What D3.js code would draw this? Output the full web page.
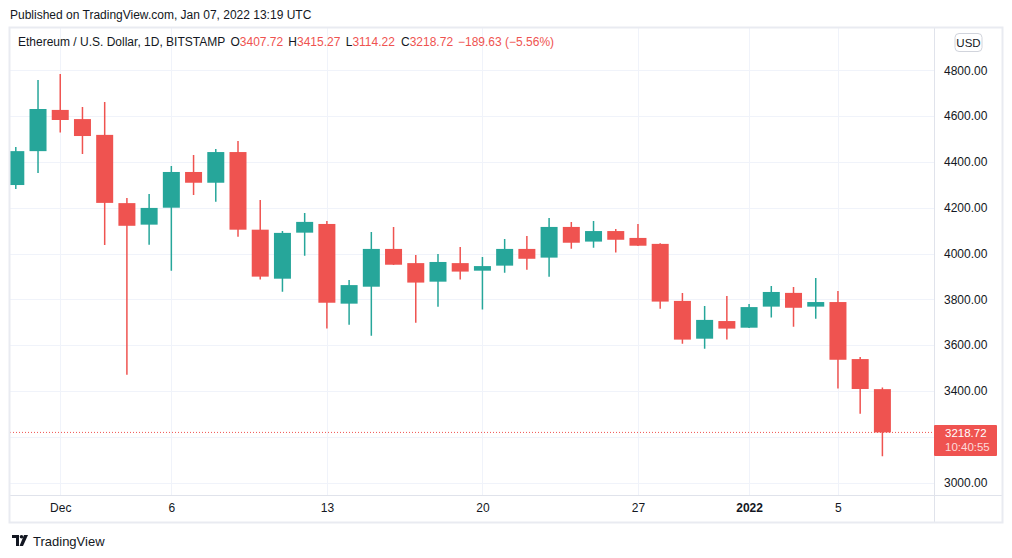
<!DOCTYPE html>
<html>
<head>
<meta charset="utf-8">
<script src="https://cdn.jsdelivr.net/npm/d3@7"></script>
<style>
  body { margin: 0; background: #fff; overflow: hidden; }
  text { font-family: "Liberation Sans", "Noto Sans", sans-serif; }
</style>
</head>
<body>
<script>
// ETH/USD daily candles, Bitstamp, Nov 29 2021 – Jan 7 2022
const dates = [
  '2021-11-29', '2021-11-30', '2021-12-01', '2021-12-02', '2021-12-03', '2021-12-04', '2021-12-05',
  '2021-12-06', '2021-12-07', '2021-12-08', '2021-12-09', '2021-12-10', '2021-12-11', '2021-12-12',
  '2021-12-13', '2021-12-14', '2021-12-15', '2021-12-16', '2021-12-17', '2021-12-18', '2021-12-19',
  '2021-12-20', '2021-12-21', '2021-12-22', '2021-12-23', '2021-12-24', '2021-12-25', '2021-12-26',
  '2021-12-27', '2021-12-28', '2021-12-29', '2021-12-30', '2021-12-31', '2022-01-01', '2022-01-02',
  '2022-01-03', '2022-01-04', '2022-01-05', '2022-01-06', '2022-01-07'
];
const opens = [
  4299, 4447, 4627, 4587, 4518, 4220, 4126, 4200, 4356, 4309, 4443, 4104, 3890, 4091,
  4129, 3781, 3855, 4020, 3958, 3877, 3958, 3925, 3947, 4020, 3982, 4116, 4052, 4098,
  4068, 4042, 3793, 3628, 3705, 3676, 3768, 3828, 3768, 3788, 3539, 3407.72
];
const highs = [
  4465, 4758, 4784, 4640, 4662, 4242, 4260, 4382, 4430, 4456, 4491, 4234, 4098, 4177,
  4142, 3884, 4094, 4116, 3993, 3998, 4028, 3985, 4063, 4076, 4155, 4138, 4142, 4107,
  4129, 4045, 3828, 3771, 3814, 3779, 3858, 3854, 3893, 3836, 3548, 3415.27
];
const lows = [
  4282, 4352, 4528, 4435, 4037, 3471, 4038, 3925, 4255, 4226, 4073, 3886, 3833, 3990,
  3672, 3689, 3641, 3950, 3698, 3768, 3886, 3755, 3916, 3929, 3899, 4021, 4025, 4004,
  4033, 3759, 3606, 3584, 3624, 3675, 3720, 3680, 3715, 3410, 3300, 3114.22
];
const closes = [
  4447, 4631, 4583, 4513, 4221, 4121, 4199, 4356, 4309, 4443, 4104, 3899, 4090, 4138,
  3785, 3862, 4020, 3951, 3873, 3963, 3921, 3945, 4020, 3977, 4116, 4047, 4098, 4060,
  4034, 3790, 3624, 3710, 3672, 3766, 3832, 3763, 3788, 3536, 3408.35, 3218.72
];
const priceTicks = [3000, 3200, 3400, 3600, 3800, 4000, 4200, 4400, 4600, 4800];
const timeTicks = ['2021-12-01', '2021-12-06', '2021-12-13', '2021-12-20', '2021-12-27', '2022-01-01', '2022-01-05'];
const timeLabels = ['Dec', '6', '13', '20', '27', '2022', '5'];

const width = 1012, height = 558;
const up = '#26a69a', down = '#ef5350';
const grid = '#f0f3fa', border = '#e0e3eb', ink = '#131722';

// pane geometry
const paneL = 10, paneR = 934, paneT = 28, paneB = 495.5, frameR = 1002, frameB = 522;

const parse = d3.utcParse('%Y-%m-%d');
const candles = dates.map((d, i) => ({
  date: parse(d), o: opens[i], h: highs[i], l: lows[i], c: closes[i]
}));

const x = d3.scaleUtc()
  .domain([parse('2021-11-29'), parse('2022-01-07')])
  .range([15.8, 882.4]);
const y = d3.scaleLinear()
  .domain([3000, 4800])
  .range([482.5, 70.3]);

const svg = d3.select('body').append('svg')
  .attr('width', width)
  .attr('height', height);

svg.append('defs').append('clipPath').attr('id', 'pane')
  .append('rect')
  .attr('x', paneL).attr('y', paneT)
  .attr('width', paneR - paneL).attr('height', paneB - paneT);

// header
svg.append('text')
  .attr('x', 10).attr('y', 19)
  .attr('font-size', 12).attr('fill', ink)
  .text('Published on TradingView.com, Jan 07, 2022 13:19 UTC');

// grid
const gridG = svg.append('g');
gridG.selectAll('line.h').data(priceTicks).join('line')
  .attr('x1', paneL).attr('x2', paneR)
  .attr('y1', d => Math.round(y(d)) + 0.5).attr('y2', d => Math.round(y(d)) + 0.5)
  .attr('stroke', grid);
gridG.selectAll('line.v').data(timeTicks).join('line')
  .attr('x1', d => Math.round(x(parse(d))) + 0.5).attr('x2', d => Math.round(x(parse(d))) + 0.5)
  .attr('y1', paneT).attr('y2', paneB)
  .attr('stroke', grid);

// candles
const bodyW = 17;
const cg = svg.append('g').attr('clip-path', 'url(#pane)');
const cand = cg.selectAll('g').data(candles).join('g');
cand.append('line')
  .attr('x1', d => x(d.date)).attr('x2', d => x(d.date))
  .attr('y1', d => y(d.h)).attr('y2', d => y(d.l))
  .attr('stroke', d => d.c >= d.o ? up : down)
  .attr('stroke-width', 1.5);
cand.append('rect')
  .attr('x', d => x(d.date) - bodyW / 2)
  .attr('width', bodyW)
  .attr('y', d => y(Math.max(d.o, d.c)))
  .attr('height', d => Math.max(1, Math.abs(y(d.o) - y(d.c))))
  .attr('fill', d => d.c >= d.o ? up : down);

// last price line
const last = closes[closes.length - 1];
svg.append('line')
  .attr('x1', paneL).attr('x2', paneR)
  .attr('y1', y(last)).attr('y2', y(last))
  .attr('stroke', down).attr('stroke-width', 1)
  .attr('stroke-dasharray', '1,2');

// legend line
const legend = svg.append('text')
  .attr('x', 18).attr('y', 46)
  .attr('font-size', 12).attr('fill', ink);
legend.append('tspan').text('Ethereum / U.S. Dollar, 1D, BITSTAMP');
const lastC = candles[candles.length - 1];
const prev = closes[closes.length - 2];
const chg = lastC.c - prev;
const ohlcX = [230.5, 288.3, 345.7, 401];
[['O', lastC.o], ['H', lastC.h], ['L', lastC.l], ['C', lastC.c]].forEach(([k, v], i) => {
  legend.append('tspan').attr('x', ohlcX[i]).attr('fill', ink).text(k);
  legend.append('tspan').attr('fill', down).text(d3.format('.2f')(v));
});
legend.append('tspan').attr('x', 458).attr('fill', down)
  .text('\u2212' + d3.format('.2f')(Math.abs(chg)) + ' (\u2212' + d3.format('.2f')(Math.abs(chg / prev * 100)) + '%)');

// price axis: labels hidden where the last-price badge sits
const ly = y(last);
const labelTicks = priceTicks.filter(v => Math.abs(y(v) - ly) > 20);
const yAxis = svg.append('g')
  .attr('transform', `translate(${paneR},0)`)
  .call(d3.axisRight(y).tickValues(labelTicks).tickFormat(d3.format('.2f')).tickSize(0).tickPadding(10));
yAxis.select('.domain').remove();
yAxis.selectAll('text')
  .attr('font-size', 12).attr('fill', ink)
  .attr('font-family', '"Liberation Sans", sans-serif');

// time axis
const xAxis = svg.append('g')
  .attr('transform', `translate(0,${paneB})`)
  .call(d3.axisBottom(x)
    .tickValues(timeTicks.map(parse))
    .tickFormat((d, i) => timeLabels[i])
    .tickSize(0).tickPadding(8));
xAxis.select('.domain').remove();
xAxis.selectAll('text')
  .attr('font-size', 12).attr('fill', ink)
  .attr('font-family', '"Liberation Sans", sans-serif')
  .attr('font-weight', (d, i) => timeLabels[i] === '2022' ? 'bold' : null);

// frame lines
svg.append('line')
  .attr('x1', paneL).attr('x2', frameR).attr('y1', paneB).attr('y2', paneB)
  .attr('stroke', border);
svg.append('line')
  .attr('x1', paneR + 0.5).attr('x2', paneR + 0.5).attr('y1', paneT).attr('y2', frameB)
  .attr('stroke', border);
svg.append('rect')
  .attr('x', paneL - 0.5).attr('y', paneT - 0.5)
  .attr('width', frameR - paneL + 1).attr('height', frameB - paneT + 1)
  .attr('fill', 'none').attr('stroke', '#e9ebf1').attr('stroke-width', 2);

// USD badge
svg.append('rect')
  .attr('x', 955).attr('y', 33.5).attr('width', 27).attr('height', 18).attr('rx', 4)
  .attr('fill', '#fff').attr('stroke', '#d1d4dc');
svg.append('text')
  .attr('x', 968.5).attr('y', 46.5).attr('text-anchor', 'middle')
  .attr('font-size', 11.5).attr('fill', ink).text('USD');

// last price label
svg.append('rect')
  .attr('x', paneR).attr('y', ly - 7.5).attr('width', 63).attr('height', 31).attr('rx', 1)
  .attr('fill', down);
const lbl = svg.append('text')
  .attr('x', 945).attr('y', ly + 4.5)
  .attr('font-size', 11.5).attr('fill', '#fff');
lbl.append('tspan').attr('x', 945).text(d3.format('.2f')(last));
lbl.append('tspan').attr('x', 945).attr('dy', 14.5).attr('fill-opacity', 0.8).text('10:40:55');

// footer logo
const logo = svg.append('g').attr('transform', 'translate(12,535)');
logo.append('path').attr('d', 'M0,0 H7 V11 H4 V3 H0 Z').attr('fill', ink);
logo.append('circle').attr('cx', 9.5).attr('cy', 1.8).attr('r', 1.8).attr('fill', ink);
logo.append('path').attr('d', 'M12,0 H16 L11,11 H7.5 Z').attr('fill', ink);
svg.append('text')
  .attr('x', 33).attr('y', 546)
  .attr('font-size', 13).attr('fill', ink).text('TradingView');
</script>
</body>
</html>
